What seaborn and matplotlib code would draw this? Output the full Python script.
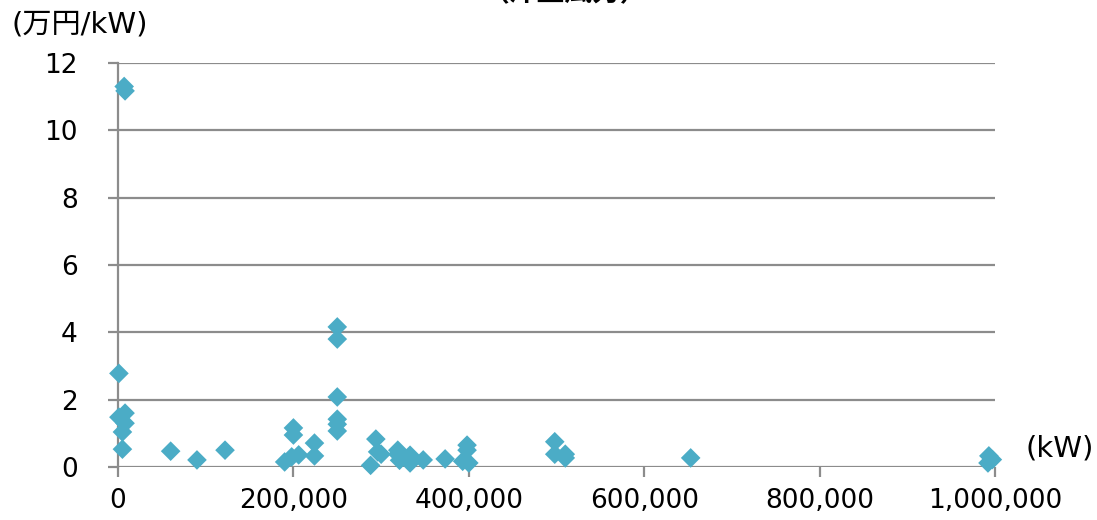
import pandas as pd
import seaborn as sns
import matplotlib.pyplot as plt

# ============================================
# DATA
# ============================================

capacity_kw = [
    7000, 8000,
    1000,
    1000, 8000, 8000, 5000, 5000,
    60000, 90000, 122000,
    190000, 198000, 206000, 224000, 224000,
    200000, 200000,
    250000, 250000, 250000, 250000, 250000, 250000,
    288000, 294000, 296000, 300000,
    319000, 319000, 321000, 333000, 333000, 348000, 373000,
    398000, 398000, 393000, 400000,
    498000, 498000, 510000, 510000,
    653000,
    993000, 997000, 992000,
]

cost_man_yen_per_kw = [
    11.30, 11.17,
    2.78,
    1.48, 1.60, 1.30, 1.04, 0.53,
    0.47, 0.21, 0.50,
    0.15, 0.30, 0.36, 0.71, 0.33,
    1.16, 0.95,
    4.16, 3.80, 2.08, 1.42, 1.27, 1.07,
    0.05, 0.83, 0.45, 0.38,
    0.50, 0.38, 0.20, 0.35, 0.12, 0.21, 0.24,
    0.65, 0.50, 0.17, 0.12,
    0.75, 0.38, 0.38, 0.27,
    0.27,
    0.33, 0.22, 0.12,
]

x_ticks = [0, 200000, 400000, 600000, 800000, 1000000]
y_ticks = [0, 2, 4, 6, 8, 10, 12]

df = pd.DataFrame({
    'capacity': capacity_kw,
    'cost': cost_man_yen_per_kw
})

# ============================================
# PLOT
# ============================================

sns.set_style("white")
plt.rcParams['font.family'] = ['DejaVu Sans', 'Noto Sans CJK JP']
plt.rcParams['text.color'] = 'black'

grid_col = '#8c8c8c'

fig = plt.figure(figsize=(10.97, 5.2), dpi=100)
ax = fig.add_axes([0.1076, 0.1019, 0.907 - 0.1076, 0.879 - 0.1019])

for y in y_ticks:
    ax.axhline(y, color=grid_col, linewidth=1.6, zorder=1)

sns.scatterplot(
    data=df,
    x='capacity',
    y='cost',
    marker='D',
    s=100,
    color='#4BACC6',
    edgecolor='none',
    ax=ax,
    zorder=3,
    clip_on=False
)

ax.set_xlim(0, 1000000)
ax.set_ylim(0, 12)
ax.set_xticks(x_ticks)
ax.set_xticklabels([f"{v:,}" for v in x_ticks])
ax.set_yticks(y_ticks)
ax.set_xlabel("")
ax.set_ylabel("")

for side in ['top', 'right', 'bottom']:
    ax.spines[side].set_visible(False)
ax.spines['left'].set_color(grid_col)
ax.spines['left'].set_linewidth(1.6)

ax.tick_params(axis='both', colors=grid_col, labelcolor='black',
               labelsize=19, length=7, width=1.6, direction='out')
ax.tick_params(axis='x', pad=8, bottom=True)
ax.tick_params(axis='y', pad=22, left=True)

fig.text(12 / 1097, 1 - 25 / 520, "(万円/kW)", fontsize=21,
         ha='left', va='center')
fig.text(1025 / 1097, 1 - 448 / 520, "(kW)", fontsize=21,
         ha='left', va='center')
# title is clipped at the top edge in the reference
fig.text(565 / 1097, 1 - 1 / 520, "（洋上風力）", fontsize=20, fontweight='bold',
         ha='center', va='baseline', family=['Noto Sans CJK JP', 'DejaVu Sans'])

plt.savefig("out.png", dpi=100)
